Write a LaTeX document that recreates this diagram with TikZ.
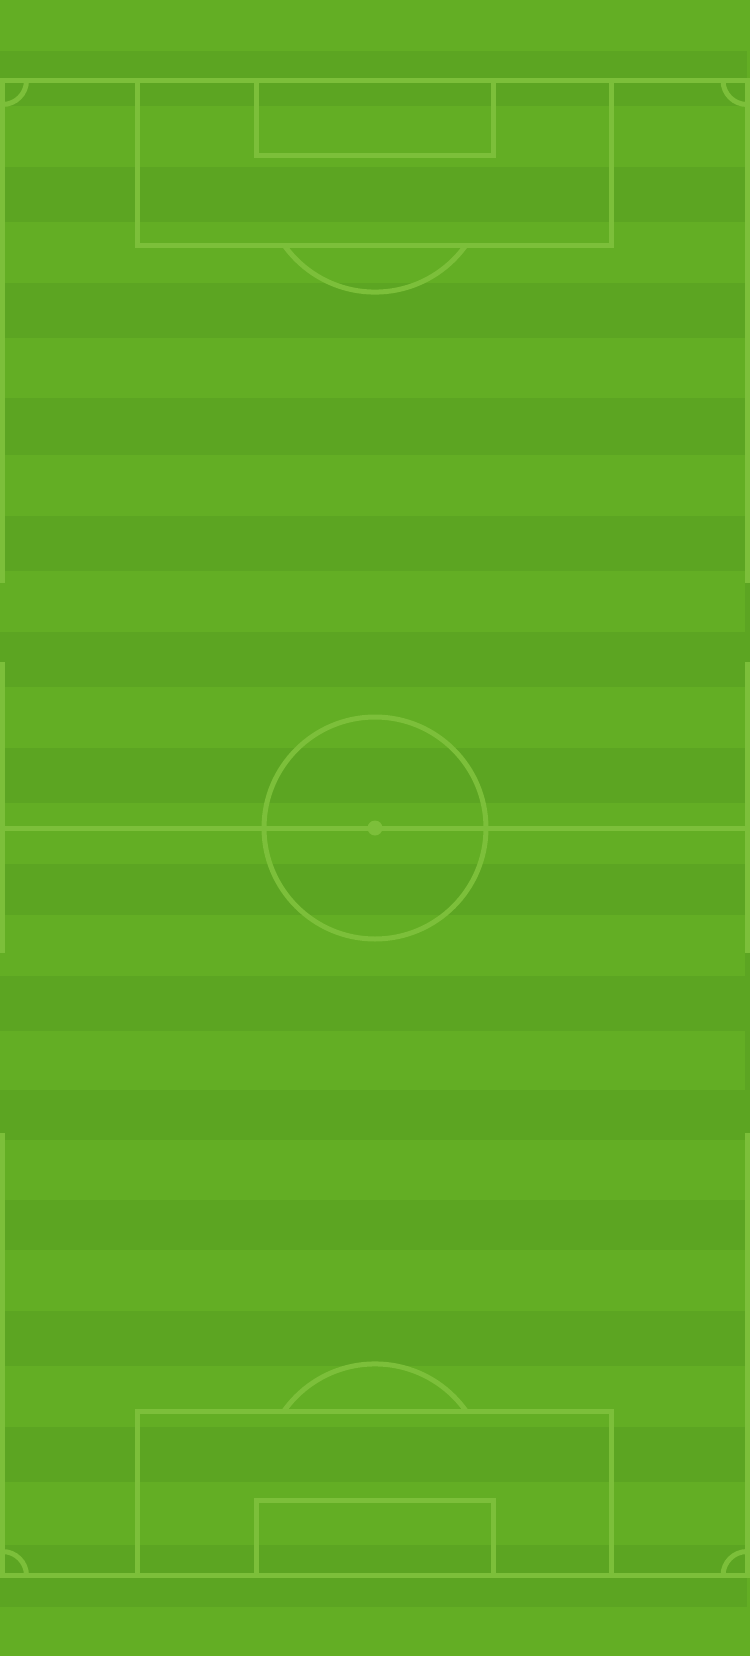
\documentclass[tikz,border=0pt]{standalone}
\definecolor{grassL}{HTML}{63AE24}
\definecolor{grassD}{HTML}{5CA522}
\definecolor{chalk}{HTML}{7CBF3A}
\begin{document}
\begin{tikzpicture}[x=1pt,y=-1pt,
  pitchline/.style={draw=chalk,line width=5pt},
  stripe/.style={fill=grassD}]
\useasboundingbox (0,0) rectangle (750,1656);
\fill[grassL] (0,0) rectangle (750,1656);
\foreach \a/\b in {51/106.5, 166.7/221.7, 283.3/338.3, 398.3/454.5, 515.7/570.7, 632.3/686.7, 748/802.5, 864/914.7, 975.5/1030.7, 1089.7/1139.5, 1199.5/1249.5, 1311/1366, 1427/1482, 1545/1607}
  \fill[stripe] (0,\a) rectangle (746.7,\b);
% dark edge where the right touch line is broken
\fill[grassD] (745,582.5) rectangle (750,662);
\fill[grassD] (745,953) rectangle (750,1133);
% goal lines and halfway line
\draw[pitchline] (0,80.5) -- (750,80.5);
\draw[pitchline] (0,1575.5) -- (750,1575.5);
\draw[pitchline] (0,828) -- (750,828);
% touch lines (broken)
\foreach \x in {2.5,747} {
  \draw[pitchline] (\x,80.5) -- (\x,582.5);
  \draw[pitchline] (\x,662) -- (\x,953);
  \draw[pitchline] (\x,1133) -- (\x,1575.5);
}
% penalty areas
\draw[pitchline] (137.5,80.5) -- (137.5,245) -- (611.8,245) -- (611.8,80.5);
\draw[pitchline] (137.5,1575.5) -- (137.5,1411) -- (611.8,1411) -- (611.8,1575.5);
% goal areas
\draw[pitchline] (256,80.5) -- (256,155.3) -- (493.5,155.3) -- (493.5,80.5);
\draw[pitchline] (256,1575.5) -- (256,1500.7) -- (493.5,1500.7) -- (493.5,1575.5);
% penalty arcs
\begin{scope}
  \clip (0,245) rectangle (750,420);
  \draw[pitchline] (375,180.6) circle[radius=111.5];
\end{scope}
\begin{scope}
  \clip (0,1236) rectangle (750,1411);
  \draw[pitchline] (375,1475.4) circle[radius=111.5];
\end{scope}
% corner arcs
\begin{scope}
  \clip (2.5,80.5) rectangle (747,1575.5);
  \foreach \cx/\cy in {2.5/80.5, 747/80.5, 2.5/1575.5, 747/1575.5}
    \draw[pitchline] (\cx,\cy) circle[radius=24];
\end{scope}
% centre circle and spot
\draw[pitchline] (375,828) circle[radius=111];
\fill[chalk] (375,828) circle[radius=7.5];
\end{tikzpicture}
\end{document}
